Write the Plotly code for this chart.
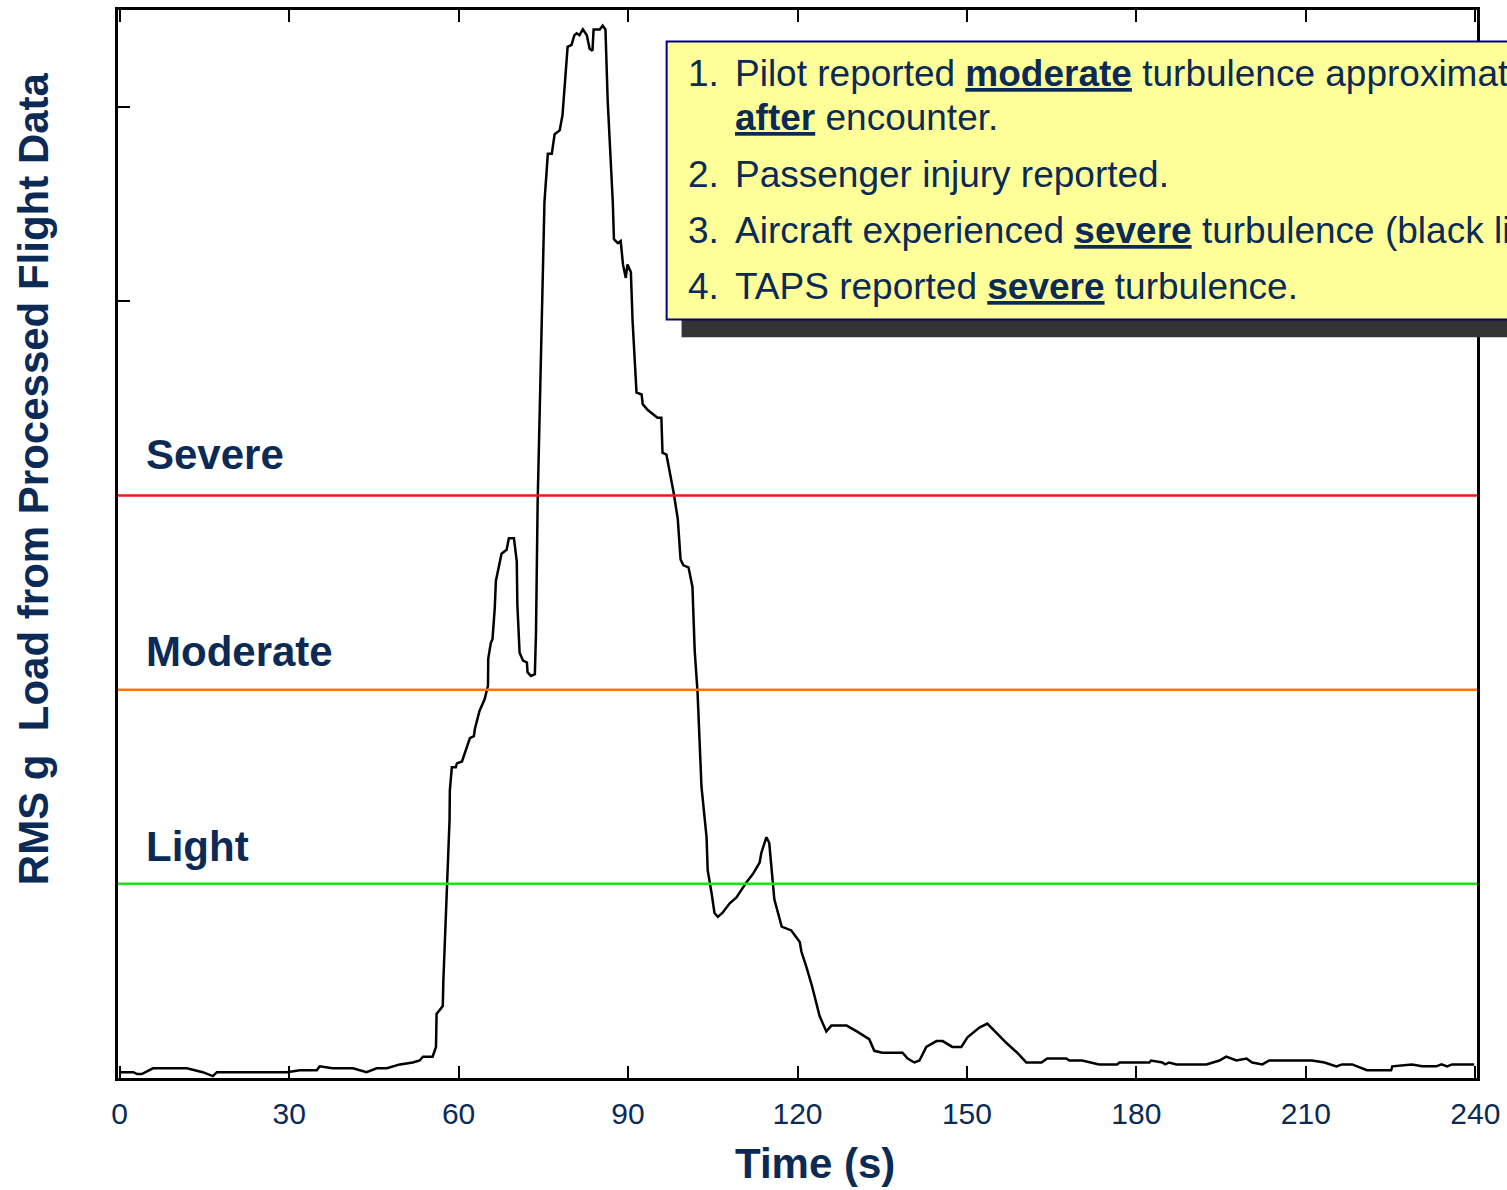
import plotly.graph_objects as go

# ---- data -------------------------------------------------------------
time_s = [0.0, 2.4, 3.1, 3.9, 5.9, 11.9, 14.7, 16.5, 17.2, 27.1, 29.6, 31.9, 34.9, 35.4, 37.7, 41.3,
          43.7, 45.5, 47.3, 49.6, 51.9, 53.1, 53.7, 55.4, 56.0, 56.1, 56.7, 57.2, 57.3, 58.4, 58.45,
          58.8, 59.5, 59.7, 60.6, 61.1, 62.0, 62.7, 62.9, 63.7, 64.6, 65.2, 65.25, 65.7, 66.0, 66.4,
          66.6, 67.6, 68.5, 68.9, 69.8, 70.3, 70.4, 70.8, 71.4, 72.1, 72.2, 72.8, 73.5, 73.7, 74.0,
          75.2, 75.8, 76.5, 77.0, 77.9, 78.4, 79.3, 80.0, 80.5, 80.9, 81.4, 82.0, 82.7, 83.2, 83.7,
          83.9, 85.0, 85.5, 86.0, 86.4, 87.3, 87.5, 88.2, 88.7, 89.1, 89.6, 89.9, 90.5, 90.8, 91.5,
          92.4, 92.6, 93.5, 94.4, 95.2, 95.9, 96.1, 96.8, 97.7, 98.1, 98.8, 99.3, 99.8, 100.7, 101.4,
          101.8, 102.3, 102.8, 103.0, 103.9, 104.1, 104.8, 105.3, 105.9, 106.7, 108.0, 109.2, 110.1,
          111.0, 112.1, 113.3, 113.6, 114.5, 115.0, 115.6, 115.9, 117.2, 118.9, 120.4, 120.7, 121.6,
          122.6, 123.9, 125.1, 126.0, 128.7, 130.5, 131.5, 132.7, 133.6, 135.0, 135.9, 138.6, 139.5,
          140.7, 141.6, 142.8, 144.6, 145.7, 147.4, 149.0, 150.1, 152.2, 153.6, 157.0, 158.9, 160.5,
          163.2, 164.2, 167.6, 168.1, 170.4, 173.4, 176.6, 177.0, 182.3, 182.6, 184.6, 185.1, 185.8,
          187.1, 192.4, 193.4, 194.7, 195.9, 197.7, 199.5, 200.5, 202.3, 203.5, 211.1, 213.3, 215.4,
          216.4, 218.2, 220.8, 225.1, 225.3, 228.8, 230.6, 233.1, 234.0, 235.0, 235.9, 239.8]
rms_g = [0.003, 0.003, 0.002, 0.002, 0.005, 0.005, 0.003, 0.001, 0.003, 0.003, 0.003, 0.004, 0.004,
         0.006, 0.005, 0.005, 0.003, 0.005, 0.005, 0.007, 0.008, 0.009, 0.011, 0.011, 0.016, 0.033,
         0.035, 0.037, 0.050, 0.133, 0.148, 0.160, 0.160, 0.162, 0.163, 0.167, 0.175, 0.176, 0.180,
         0.189, 0.195, 0.202, 0.216, 0.224, 0.226, 0.242, 0.256, 0.270, 0.272, 0.278, 0.278, 0.266,
         0.244, 0.219, 0.215, 0.214, 0.209, 0.207, 0.208, 0.229, 0.297, 0.451, 0.476, 0.476, 0.486,
         0.488, 0.496, 0.531, 0.532, 0.537, 0.538, 0.537, 0.540, 0.537, 0.530, 0.529, 0.540, 0.540,
         0.542, 0.540, 0.503, 0.451, 0.432, 0.430, 0.431, 0.419, 0.412, 0.419, 0.415, 0.390, 0.353,
         0.352, 0.347, 0.344, 0.342, 0.340, 0.340, 0.322, 0.321, 0.307, 0.301, 0.288, 0.267, 0.264,
         0.263, 0.253, 0.220, 0.199, 0.169, 0.150, 0.124, 0.107, 0.095, 0.085, 0.083, 0.085, 0.090,
         0.093, 0.097, 0.101, 0.105, 0.111, 0.116, 0.124, 0.121, 0.100, 0.092, 0.078, 0.076, 0.070,
         0.065, 0.057, 0.047, 0.032, 0.024, 0.027, 0.027, 0.024, 0.022, 0.020, 0.014, 0.013, 0.013,
         0.013, 0.010, 0.008, 0.009, 0.016, 0.019, 0.019, 0.016, 0.016, 0.021, 0.026, 0.028, 0.018,
         0.013, 0.008, 0.008, 0.010, 0.010, 0.009, 0.009, 0.007, 0.007, 0.008, 0.008, 0.009, 0.008,
         0.007, 0.008, 0.007, 0.007, 0.008, 0.009, 0.011, 0.009, 0.010, 0.008, 0.007, 0.009, 0.009,
         0.008, 0.006, 0.007, 0.007, 0.004, 0.004, 0.006, 0.007, 0.006, 0.006, 0.007, 0.006, 0.007,
         0.007]

level_names = ["Light", "Moderate", "Severe"]
level_values = [0.1, 0.2, 0.3]

x_ticks = [0, 30, 60, 90, 120, 150, 180, 210, 240]
y_ticks = [0.4, 0.5]

notes_num = ["1.", "", "2.", "3.", "4."]
notes_text = [
    "Pilot reported <b><u>moderate</u></b> turbulence approximately",
    "<b><u>after</u></b> encounter.",
    "Passenger injury reported.",
    "Aircraft experienced <b><u>severe</u></b> turbulence (black line).",
    "TAPS reported <b><u>severe</u></b> turbulence.",
]

# ---- style ------------------------------------------------------------
NAVY = "#0B2A55"
FONT = "Liberation Sans, Arial, sans-serif"
level_colors = {"Light": "#22DD22", "Moderate": "#FF7410", "Severe": "#F01818"}
label_offset_y = {"Light": 0.019, "Moderate": 0.0195, "Severe": 0.021}

fig = go.Figure()
fig.add_trace(go.Scatter(x=time_s, y=rms_g, mode="lines",
                         line=dict(color="black", width=2.5), showlegend=False))

for name, val in zip(level_names, level_values):
    fig.add_shape(type="line", xref="paper", x0=0, x1=1, yref="y", y0=val, y1=val,
                  line=dict(color=level_colors[name], width=2.5), layer="above")
    fig.add_annotation(x=4.3, y=val + label_offset_y[name], xref="x", yref="y",
                       text=f"<b>{name}</b>", showarrow=False, xanchor="left", yanchor="middle",
                       font=dict(family=FONT, size=42, color=NAVY))

# note box with shadow
fig.add_shape(type="rect", xref="paper", yref="paper", x0=0.4147, x1=1.06, y0=0.6935, y1=0.953,
              fillcolor="#333333", line=dict(width=0), layer="above")
fig.add_shape(type="rect", xref="paper", yref="paper", x0=0.4037, x1=1.04, y0=0.7103, y1=0.9705,
              fillcolor="#FFFF99", line=dict(color="#000080", width=2), layer="above")

line_px = [72, 116, 173, 229, 285]
for num, txt, py in zip(notes_num, notes_text, line_px):
    yp = (1078 - py) / 1070
    if num:
        fig.add_annotation(x=(686 - 118) / 1360, y=yp, xref="paper", yref="paper", text=num,
                           showarrow=False, xanchor="left", yanchor="middle",
                           font=dict(family=FONT, size=37, color=NAVY))
    fig.add_annotation(x=(733 - 118) / 1360, y=yp, xref="paper", yref="paper", text=txt,
                       showarrow=False, xanchor="left", yanchor="middle",
                       font=dict(family=FONT, size=37, color=NAVY))

# axis titles
fig.add_annotation(x=(816 - 118) / 1360, y=(1078 - 1164) / 1070, xref="paper", yref="paper",
                   text="<b>Time (s)</b>", showarrow=False, xanchor="center", yanchor="middle",
                   font=dict(family=FONT, size=42, color=NAVY))
fig.add_annotation(x=(33 - 118) / 1360, y=(1078 - 478) / 1070, xref="paper", yref="paper",
                   text="<b>RMS g  Load from Processed Flight Data</b>", textangle=-90,
                   showarrow=False, xanchor="center", yanchor="middle",
                   font=dict(family=FONT, size=42, color=NAVY))

fig.update_xaxes(range=[-0.3, 240.3], tickvals=x_ticks, ticktext=[str(v) for v in x_ticks],
                 showgrid=False, zeroline=False, showline=True, linecolor="black", linewidth=2.5,
                 mirror="ticks", ticks="inside", ticklen=12, tickwidth=2, tickcolor="black",
                 tickfont=dict(family=FONT, size=30, color=NAVY), ticklabelstandoff=7)
fig.update_yaxes(range=[0, 0.55], tickvals=y_ticks, showticklabels=False,
                 showgrid=False, zeroline=False, showline=True, linecolor="black", linewidth=2.5,
                 mirror="ticks", ticks="inside", ticklen=12, tickwidth=2, tickcolor="black")

fig.update_layout(width=1507, height=1190, margin=dict(l=118, r=29, t=7, b=112),
                  paper_bgcolor="white", plot_bgcolor="white", showlegend=False,
                  font=dict(family=FONT, color=NAVY))

fig.write_html("out.html", config={"displayModeBar": False},
               post_script="document.body.style.margin='0';document.body.style.overflow='hidden';")
